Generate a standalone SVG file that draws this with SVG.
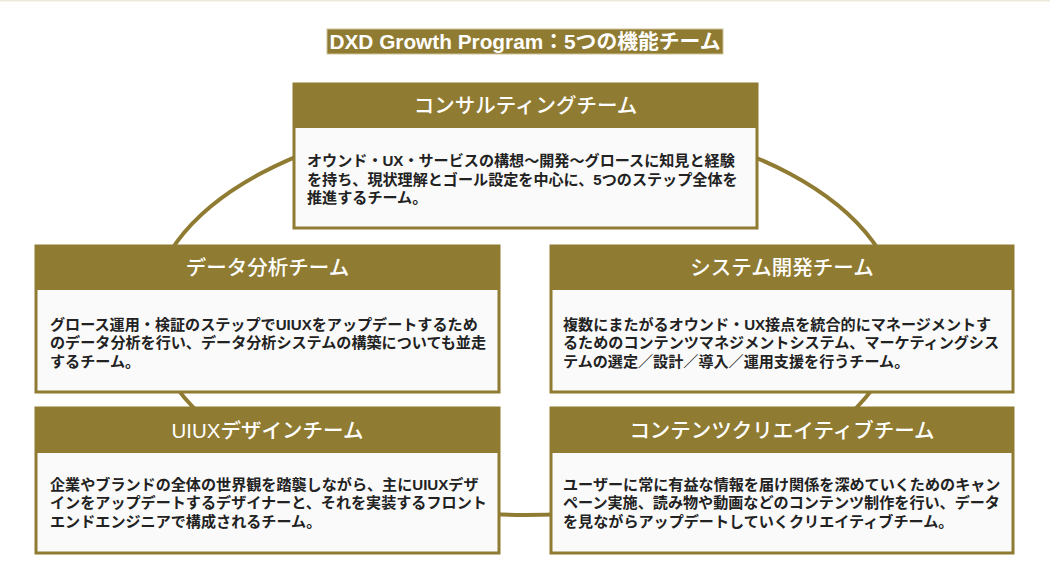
<svg xmlns="http://www.w3.org/2000/svg" width="1050" height="576" viewBox="0 0 1050 576">
<style>
text{font-family:"Liberation Sans","Noto Sans CJK JP",sans-serif}
.frame{fill:#fafafa;stroke:#8f7b32;stroke-width:3}
.head{fill:#8f7b32}
.ht{fill:#ffffff;font-size:20.5px;font-weight:500;text-anchor:middle}
.bt{fill:#222222;font-size:15.1px;font-weight:700}
.ring{fill:none;stroke:#8f7b32;stroke-width:4}
</style>
<rect x="0" y="0" width="1050" height="576" fill="#ffffff"/>
<rect x="0" y="0" width="1050" height="1.5" fill="#ece9db"/>
<g id="title">
<rect x="327" y="29" width="396" height="25" fill="#8f7b32" stroke="#cfc498" stroke-width="1"/>
<text x="525" y="48.5" text-anchor="middle" fill="#ffffff" font-size="20.8px" font-weight="700">DXD Growth Program：5つの機能チーム</text>
</g>
<g id="connectors">
<ellipse class="ring" cx="525" cy="315" rx="374" ry="200"/>
</g>
<g id="consulting">
<rect class="frame" x="294" y="84" width="463" height="144"/>
<rect class="head" x="294" y="84" width="463" height="44"/>
<text class="ht" x="525.5" y="113">コンサルティングチーム</text>
<text class="bt" x="307" y="166">オウンド・UX・サービスの構想〜開発〜グロースに知見と経験</text>
<text class="bt" x="307" y="184.5">を持ち、現状理解とゴール設定を中心に、5つのステップ全体を</text>
<text class="bt" x="307" y="203">推進するチーム。</text>
</g>
<g id="data">
<rect class="frame" x="36" y="246" width="463" height="146"/>
<rect class="head" x="36" y="246" width="463" height="44"/>
<text class="ht" x="267.5" y="275">データ分析チーム</text>
<text class="bt" x="50" y="329.5">グロース運用・検証のステップでUIUXをアップデートするため</text>
<text class="bt" x="50" y="348">のデータ分析を行い、データ分析システムの構築についても並走</text>
<text class="bt" x="50" y="366.5">するチーム。</text>
</g>
<g id="system">
<rect class="frame" x="551" y="246" width="462" height="146"/>
<rect class="head" x="551" y="246" width="462" height="44"/>
<text class="ht" x="782" y="275">システム開発チーム</text>
<text class="bt" x="563" y="329.5">複数にまたがるオウンド・UX接点を統合的にマネージメントす</text>
<text class="bt" x="563" y="348">るためのコンテンツマネジメントシステム、マーケティングシス</text>
<text class="bt" x="563" y="366.5">テムの選定／設計／導入／運用支援を行うチーム。</text>
</g>
<g id="uiux">
<rect class="frame" x="36" y="408" width="463" height="145"/>
<rect class="head" x="36" y="408" width="463" height="45"/>
<text class="ht" x="267.5" y="438">UIUXデザインチーム</text>
<text class="bt" x="50" y="489.5">企業やブランドの全体の世界観を踏襲しながら、主にUIUXデザ</text>
<text class="bt" x="50" y="508">インをアップデートするデザイナーと、それを実装するフロント</text>
<text class="bt" x="50" y="526.5">エンドエンジニアで構成されるチーム。</text>
</g>
<g id="contents">
<rect class="frame" x="551" y="408" width="462" height="145"/>
<rect class="head" x="551" y="408" width="462" height="45"/>
<text class="ht" x="782" y="438">コンテンツクリエイティブチーム</text>
<text class="bt" x="563" y="489.5">ユーザーに常に有益な情報を届け関係を深めていくためのキャン</text>
<text class="bt" x="563" y="508">ペーン実施、読み物や動画などのコンテンツ制作を行い、データ</text>
<text class="bt" x="563" y="526.5">を見ながらアップデートしていくクリエイティブチーム。</text>
</g>
</svg>
